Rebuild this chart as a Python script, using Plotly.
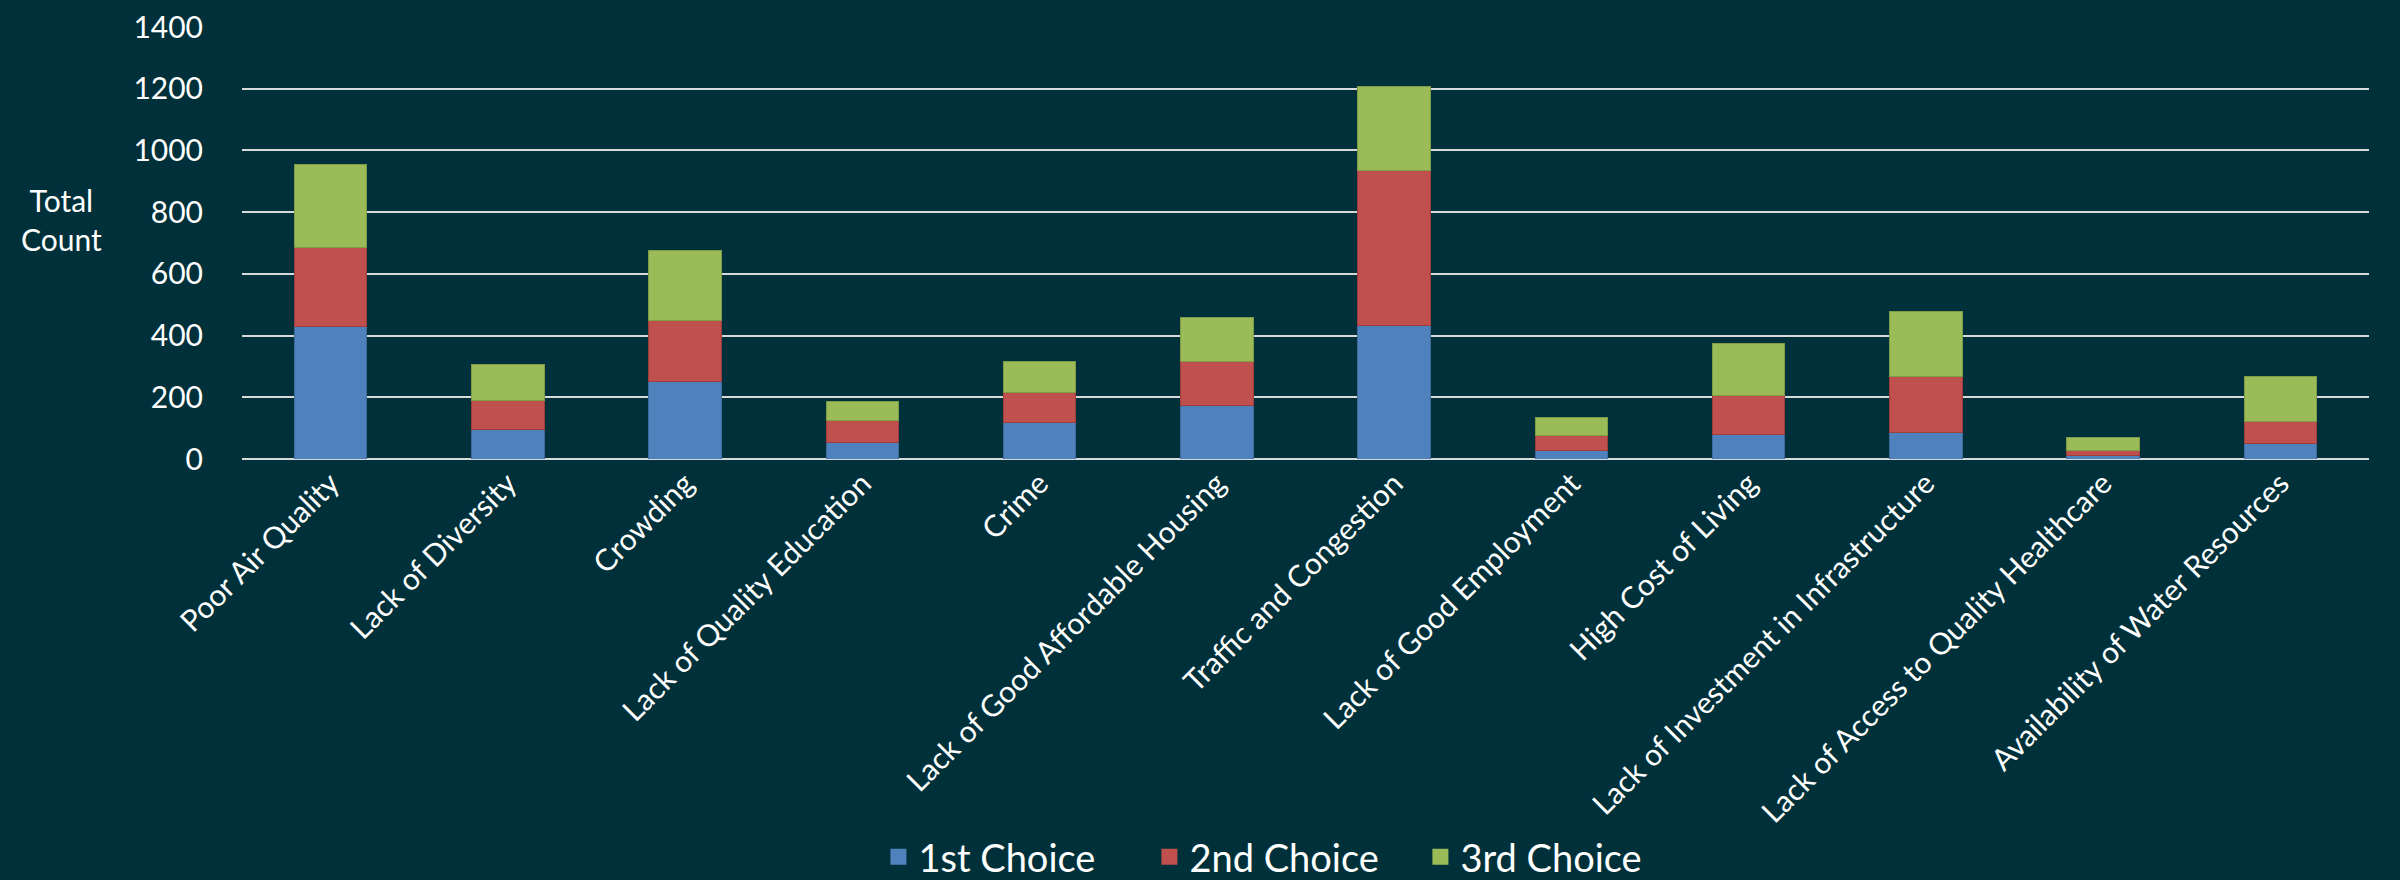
import plotly.graph_objects as go

categories = [
    "Poor Air Quality", "Lack of Diversity", "Crowding", "Lack of Quality Education",
    "Crime", "Lack of Good Affordable Housing", "Traffic and Congestion",
    "Lack of Good Employment", "High Cost of Living",
    "Lack of Investment in Infrastructure", "Lack of Access to Quality Healthcare",
    "Availability of Water Resources",
]
first_choice = [430, 94, 252, 52, 118, 174, 434, 29, 79, 85, 11, 50]
second_choice = [256, 97, 197, 73, 99, 141, 501, 48, 128, 182, 18, 71]
third_choice = [270, 114, 226, 61, 100, 143, 272, 59, 166, 212, 40, 145]
series_names = ["1st Choice", "2nd Choice", "3rd Choice"]
y_ticks = [0, 200, 400, 600, 800, 1000, 1200, 1400]

colors = ["#4F81BD", "#C0504D", "#9BBB59"]
edges = ["#3E6A9E", "#9E3E3C", "#7E9C45"]
BG = "#00313A"
FONT = "Lato"

fig = go.Figure()
for name, vals, c, e in zip(series_names, [first_choice, second_choice, third_choice], colors, edges):
    fig.add_trace(go.Bar(
        x=categories, y=vals, name=name, legendgroup=name, showlegend=False,
        marker=dict(color=c, line=dict(color=e, width=1)),
    ))
# legend-only entries with larger square swatches
for name, c in zip(series_names, colors):
    fig.add_trace(go.Scatter(
        x=[None], y=[None], mode="markers", name=name, legendgroup=name,
        marker=dict(symbol="square", size=24, color=c),
    ))

fig.update_layout(
    barmode="stack",
    bargap=0.59,
    width=2400, height=880,
    paper_bgcolor=BG, plot_bgcolor=BG,
    margin=dict(l=242, r=31, t=27, b=421, autoexpand=False),
    font=dict(family=FONT, color="white", size=30),
    legend=dict(
        orientation="h", xref="container", yref="container",
        x=0.366, xanchor="left", y=0.026, yanchor="middle",
        font=dict(size=38, color="white"),
        entrywidth=226, entrywidthmode="pixels",
        itemwidth=30, traceorder="normal", itemsizing="trace",
    ),
    showlegend=True,
)
fig.update_yaxes(
    automargin=False,
    range=[0, 1400], tickvals=y_ticks, showgrid=True,
    gridcolor="#D9D9D9", gridwidth=2, zeroline=True, zerolinecolor="#D9D9D9",
    zerolinewidth=2, tickfont=dict(size=30, color="white"),
    ticks="outside", ticklen=32, tickcolor="rgba(0,0,0,0)",
)
fig.update_xaxes(
    automargin=False,
    tickangle=-45, tickfont=dict(size=30, color="white"),
    showline=False, ticks="",
)
fig.add_annotation(
    text="Total<br>Count", xref="paper", yref="paper",
    x=-0.085, y=0.555, xanchor="center", yanchor="middle",
    showarrow=False, font=dict(size=30, color="white"), align="center",
)

fig.write_html(
    "out.html",
    config={"displayModeBar": False},
    post_script="document.body.style.margin='0';document.body.style.background='#00313A';",
)
